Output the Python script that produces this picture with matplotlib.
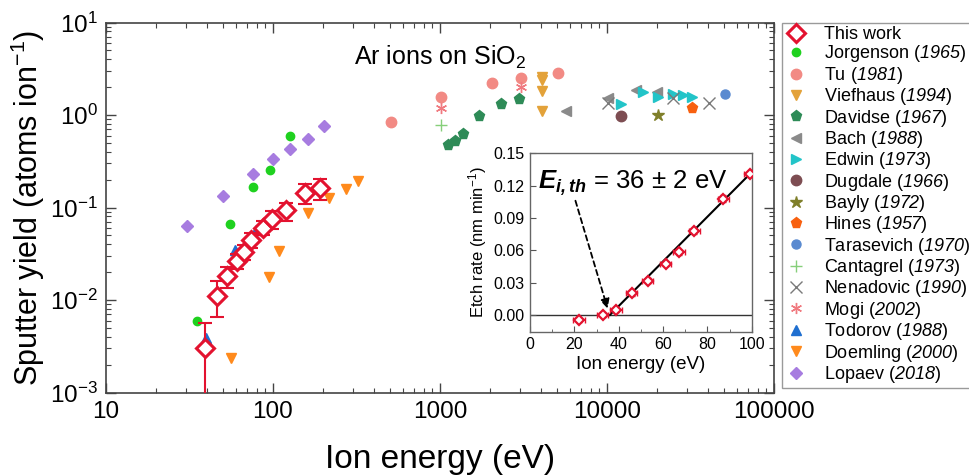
import matplotlib
matplotlib.use("Agg")
import matplotlib.pyplot as plt
import numpy as np
from matplotlib.ticker import LogLocator, MultipleLocator, FixedLocator

plt.rcParams['font.family'] = ['Liberation Sans', 'DejaVu Sans']
plt.rcParams['mathtext.fontset'] = 'custom'
plt.rcParams['mathtext.rm'] = 'Liberation Sans'
plt.rcParams['mathtext.it'] = 'Liberation Sans:italic'
plt.rcParams['mathtext.sf'] = 'Liberation Sans:italic'
plt.rcParams['mathtext.bf'] = 'Liberation Sans:bold'
plt.rcParams['mathtext.bfit'] = 'Liberation Sans:bold:italic'

# ---------------- data (main plot) ----------------
this_E = [39, 46, 53, 61, 67, 74, 87, 99, 120, 155, 190]
this_Y = [0.0030, 0.0111, 0.018, 0.0266, 0.0333, 0.0446, 0.0606, 0.0745, 0.094, 0.142, 0.164]
this_err_lo = [0.0029, 0.0046, 0.0045, 0.005, 0.006, 0.008, 0.010, 0.016, 0.022, 0.033, 0.042]
this_err_hi = [0.0027, 0.0050, 0.0045, 0.005, 0.006, 0.008, 0.010, 0.017, 0.019, 0.039, 0.039]

jorg_E = [35.2, 55.3, 75.5, 95.5, 126]
jorg_Y = [0.0060, 0.0657, 0.165, 0.256, 0.597]

tu_E = [509, 1014, 2036, 3040, 5090]
tu_Y = [0.847, 1.55, 2.2, 2.53, 2.86]

vief_E = [4065, 4065, 4065, 4065]
vief_Y = [2.56, 2.40, 1.83, 1.10]

davi_E = [1111, 1230, 1380, 1714, 2320, 2960]
davi_Y = [0.47, 0.53, 0.62, 0.975, 1.30, 1.49]

bach_E = [5660, 10100, 14970, 19800]
bach_Y = [1.10, 1.51, 1.86, 1.79]

edwin_E = [12080, 16480, 20100, 24900, 28600, 32400]
edwin_Y = [1.31, 1.79, 1.55, 1.69, 1.66, 1.58]

dugd_E = [12130]
dugd_Y = [0.98]

bayly_E = [20100]
bayly_Y = [0.99]

hines_E = [32400]
hines_Y = [1.18]

tara_E = [50900]
tara_Y = [1.69]

cant_E = [1014]
cant_Y = [0.78]

nena_E = [10100, 24900, 41000]
nena_Y = [1.34, 1.51, 1.34]

mogi_E = [1014, 3040]
mogi_Y = [1.20, 1.99]

todo_E = [39.6, 59, 79]
todo_Y = [0.0039, 0.035, 0.057]

doem_E = [55.7, 95, 108.6, 161, 215, 272, 321]
doem_Y = [0.00234, 0.0176, 0.034, 0.0865, 0.128, 0.157, 0.193]

lopa_E = [30.4, 50.5, 75.5, 100, 126, 161, 203]
lopa_Y = [0.0636, 0.132, 0.229, 0.337, 0.428, 0.546, 0.76]

# ---------------- data (inset) ----------------
in_E = [22.1, 32.8, 38.8, 45.9, 53.1, 61.2, 67.2, 74.1, 87.2, 99.2]
in_rate = [-0.0046, 0.0003, 0.0046, 0.020, 0.0319, 0.047, 0.058, 0.078, 0.108, 0.131]
in_Eerr = [2.5, 2.5, 2.5, 2.5, 2.5, 2.5, 2.5, 2.5, 2.5, 2.5]
in_rerr = [0.002, 0.002, 0.002, 0.002, 0.002, 0.002, 0.002, 0.003, 0.003, 0.003]
fit_E = [36, 100]
fit_rate = [0.0, 0.1325]

RED = '#e3122f'

fig = plt.figure(figsize=(9.69, 4.76), dpi=100)
ax = fig.add_axes([106/969, 1-392.5/476, 668/969, 370/476])
ax.set_xscale('log')
ax.set_yscale('log')
ax.set_xlim(10, 1e5)
ax.set_ylim(1e-3, 10)

series = [
    (jorg_E, jorg_Y, dict(marker='o', color='#1fd11f', ms=6.0, ls='none'), 'Jorgenson', '1965'),
    (tu_E, tu_Y, dict(marker='o', color='#f28a84', ms=7.5, ls='none'), 'Tu', '1981'),
    (vief_E, vief_Y, dict(marker='v', color='#e3a23a', ms=7.5, ls='none'), 'Viefhaus', '1994'),
    (davi_E, davi_Y, dict(marker='p', color='#2e8b57', ms=8, ls='none'), 'Davidse', '1967'),
    (bach_E, bach_Y, dict(marker='<', color='#8a8a8a', ms=7.5, ls='none'), 'Bach', '1988'),
    (edwin_E, edwin_Y, dict(marker='>', color='#22c4c8', ms=7.5, ls='none'), 'Edwin', '1973'),
    (dugd_E, dugd_Y, dict(marker='o', color='#7d4d52', ms=7.5, ls='none'), 'Dugdale', '1966'),
    (bayly_E, bayly_Y, dict(marker='*', color='#7f7f2a', ms=9, ls='none'), 'Bayly', '1972'),
    (hines_E, hines_Y, dict(marker='p', color='#f8600f', ms=8, ls='none'), 'Hines', '1957'),
    (tara_E, tara_Y, dict(marker='o', color='#5a8ad0', ms=6.5, ls='none'), 'Tarasevich', '1970'),
    (cant_E, cant_Y, dict(marker='+', color='#86cf7a', ms=8, mew=1.0, ls='none'), 'Cantagrel', '1973'),
    (nena_E, nena_Y, dict(marker='x', color='#7a7a7a', ms=8, mew=1.0, ls='none'), 'Nenadovic', '1990'),
    (mogi_E, mogi_Y, dict(marker=(6, 2, 0), color='#f07a80', ms=8, mew=1.0, ls='none'), 'Mogi', '2002'),
    (todo_E, todo_Y, dict(marker='^', color='#1f6fd0', ms=7.5, ls='none'), 'Todorov', '1988'),
    (doem_E, doem_Y, dict(marker='v', color='#ff8a1c', ms=7.5, ls='none'), 'Doemling', '2000'),
    (lopa_E, lopa_Y, dict(marker='D', color='#a77ce0', ms=6.5, ls='none'), 'Lopaev', '2018'),
]

handles = []
for E, Y, kw, name, yr in series:
    h, = ax.plot(E, Y, label=name + r' ($\mathsf{' + yr + '}$)', zorder=3, **kw)
    handles.append(h)

ax.errorbar(this_E, this_Y, yerr=[this_err_lo, this_err_hi], fmt='none',
            ecolor=RED, elinewidth=1.5, capsize=5, capthick=1.5, zorder=4)
h_this, = ax.plot(this_E, this_Y, ls='none', marker='D', ms=9, mfc='white',
                  mec=RED, mew=2.2, label='This work', zorder=5)
handles = [h_this] + handles

ax.tick_params(which='both', direction='in', top=True, right=True, color='#444444')
ax.tick_params(which='major', length=7, width=1.0, labelsize=17.5, pad=6)
ax.tick_params(which='minor', length=3.5, width=0.8)
ax.xaxis.set_major_locator(FixedLocator([10, 100, 1000, 10000, 100000]))
ax.xaxis.set_major_formatter(matplotlib.ticker.FixedFormatter(['10', '100', '1000', '10000', '100000']))
ax.xaxis.set_minor_locator(LogLocator(base=10, subs=np.arange(2, 10)))
ax.yaxis.set_minor_locator(LogLocator(base=10, subs=np.arange(2, 10), numticks=20))
for s in ax.spines.values():
    s.set_color('#444444')
    s.set_linewidth(1.2)

ax.set_ylabel(r'Sputter yield (atoms ion$^{\mathregular{-1}}$)', fontsize=22)
ax.yaxis.set_label_coords(-0.088, 0.5)
ax.set_xlabel('Ion energy (eV)', fontsize=24)
ax.xaxis.set_label_coords(0.5, -0.14)

ax.text(0.5, 0.905, r'Ar ions on SiO$_2$', transform=ax.transAxes, ha='center',
        va='center', fontsize=18)

fig.legend(handles=handles, loc='upper left', bbox_to_anchor=(782/969, 1-22.5/476),
           bbox_transform=fig.transFigure, fontsize=13, frameon=True, fancybox=False,
           edgecolor='#9a9a9a', borderaxespad=0, borderpad=0.2, labelspacing=0.02,
           handlelength=1.2, handletextpad=0.9, framealpha=1)

# ---------------- inset ----------------
ia = fig.add_axes([530/969, 1-331.7/476, 221.7/969, 178.4/476])
ia.set_xlim(0, 100)
ia.set_ylim(-0.0155, 0.15)
ia.axhline(0, color='#333333', lw=1.0, zorder=1)
ia.plot(fit_E, fit_rate, color='black', lw=1.5, zorder=2)
ia.errorbar(in_E, in_rate, xerr=in_Eerr, yerr=in_rerr, fmt='none', ecolor=RED,
            elinewidth=1.3, capsize=2, capthick=1.0, zorder=3)
ia.plot(in_E, in_rate, ls='none', marker='D', ms=5, mfc='white', mec=RED, mew=1.6, zorder=4)
ia.set_xticks([0, 20, 40, 60, 80, 100])
ia.set_yticks([0.0, 0.03, 0.06, 0.09, 0.12, 0.15])
ia.yaxis.set_major_formatter(matplotlib.ticker.FormatStrFormatter('%.2f'))
ia.xaxis.set_minor_locator(MultipleLocator(10))
ia.tick_params(which='both', direction='in', color='#555555', labelsize=11.5, pad=4)
ia.tick_params(which='major', length=4)
ia.tick_params(which='minor', length=2.5)
for s in ia.spines.values():
    s.set_color('#666666')
    s.set_linewidth(1.0)
ia.set_xlabel('Ion energy (eV)', fontsize=13.5, labelpad=3)
ia.set_ylabel(r'Etch rate (nm min$^{\mathregular{-1}}$)', fontsize=12, labelpad=3)
ia.text(3.6, 0.1175, r'$\mathbfit{E}_{\mathbfit{i,th}}$ = 36 $\pm$ 2 eV', fontsize=18.5,
        ha='left', va='baseline')
ia.annotate('', xy=(35, 0.006), xytext=(20.5, 0.106),
            arrowprops=dict(arrowstyle='-|>', color='black', lw=1.3, ls=(0, (3, 2)),
                            mutation_scale=14, shrinkA=0, shrinkB=0))

fig.savefig('out.png', dpi=100)
